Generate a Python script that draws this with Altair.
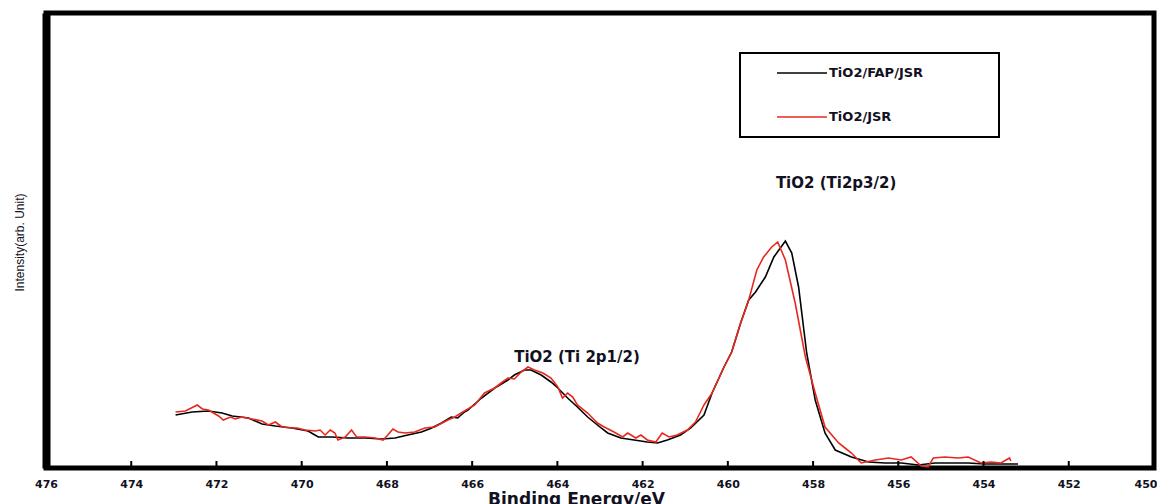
import altair as alt
import pandas as pd

SERIES = ["TiO2/FAP/JSR", "TiO2/JSR"]
COLORS = ["#000000", "#e8281e"]

E_BLACK = [472.96, 472.57, 472.19, 471.87, 471.63, 471.25, 470.93, 470.62, 470.23, 469.85,
           469.61, 469.29, 468.91, 468.51, 468.12, 467.81, 467.51, 467.19, 466.95, 466.72,
           466.49, 466.34, 466.18, 466.10, 465.78, 465.47, 465.16, 465.01, 464.77, 464.62,
           464.38, 464.15, 463.99, 463.76, 463.53, 463.29, 463.06, 462.82, 462.51, 462.20,
           461.89, 461.65, 461.42, 461.11, 460.87, 460.56, 460.37, 460.09, 459.91, 459.70,
           459.51, 459.35, 459.12, 458.92, 458.65, 458.50, 458.34, 458.15, 457.95, 457.72,
           457.48, 457.10, 456.70, 456.31, 455.93, 455.53, 455.14, 454.76, 454.36, 453.97,
           453.59, 453.19]
I_BLACK = [53, 56, 57, 55, 52, 50, 44, 42, 40, 37,
           31, 31, 30, 30, 29, 30, 33, 36, 40, 45,
           51, 50, 56, 58, 70, 80, 88, 93, 98, 98,
           93, 86, 80, 70, 61, 51, 43, 35, 30, 28,
           26, 25, 28, 33, 40, 53, 75, 101, 116, 145,
           168, 176, 191, 211, 227, 215, 181, 115, 68, 35,
           18, 11, 6, 5, 5, 3, 5, 5, 5, 4,
           4, 4]

E_RED = [472.96, 472.73, 472.45, 472.33, 472.19, 471.95, 471.84, 471.67, 471.56, 471.40,
         471.17, 470.93, 470.78, 470.62, 470.46, 470.23, 470.11, 469.92, 469.68, 469.57,
         469.45, 469.33, 469.22, 469.15, 468.98, 468.83, 468.71, 468.51, 468.28, 468.09,
         467.98, 467.86, 467.74, 467.58, 467.35, 467.11, 466.88, 466.57, 466.41, 466.18,
         465.94, 465.71, 465.47, 465.32, 465.16, 465.01, 464.85, 464.69, 464.54, 464.34,
         464.15, 463.99, 463.88, 463.76, 463.64, 463.53, 463.29, 463.06, 462.90, 462.67,
         462.47, 462.35, 462.16, 462.04, 461.89, 461.69, 461.54, 461.38, 461.19, 460.95,
         460.76, 460.56, 460.37, 460.09, 459.91, 459.70, 459.51, 459.32, 459.16, 458.97,
         458.83, 458.65, 458.42, 458.18, 457.95, 457.72, 457.40, 457.25, 457.10, 456.87,
         456.54, 456.23, 455.93, 455.70, 455.46, 455.30, 455.18, 454.91, 454.60, 454.36,
         454.06, 453.82, 453.59, 453.39, 453.36]
I_RED = [56, 57, 63, 59, 58, 52, 48, 51, 49, 51,
         49, 47, 43, 46, 41, 40, 40, 38, 37, 38,
         33, 38, 35, 28, 31, 38, 31, 31, 30, 28,
         33, 39, 36, 35, 36, 40, 41, 48, 51, 57,
         63, 75, 80, 85, 90, 89, 96, 101, 98, 95,
         90, 81, 70, 75, 71, 63, 55, 45, 41, 36,
         31, 35, 30, 33, 28, 26, 35, 31, 33, 38,
         46, 63, 75, 101, 116, 145, 168, 198, 211, 221,
         226, 208, 165, 111, 75, 41, 25, 20, 15, 5,
         8, 10, 8, 11, 2, 1, 10, 11, 10, 11,
         5, 6, 5, 10, 7]

X_LABELS = [476, 474, 472, 470, 468, 466, 464, 462, 460, 458, 456, 454, 452, 450]
X_INNER_TICKS = [474, 472, 470, 468, 466, 464, 462, 460, 458, 456, 454, 452]

ANNOT_TEXT = ["TiO2 (Ti2p3/2)", "TiO2 (Ti 2p1/2)"]
ANNOT_E = [457.46, 463.54]
ANNOT_I = [285, 111]

W, H = 1108, 455
TXT = "#111122"

lines_df = pd.concat([
    pd.DataFrame({"series": SERIES[0], "energy": E_BLACK, "intensity": I_BLACK, "order": 0}),
    pd.DataFrame({"series": SERIES[1], "energy": E_RED, "intensity": I_RED, "order": 1}),
], ignore_index=True)
annot_df = pd.DataFrame({"label": ANNOT_TEXT, "energy": ANNOT_E, "intensity": ANNOT_I})
ticks_df = pd.DataFrame({"energy": X_INNER_TICKS})

x_enc = alt.X(
    "energy:Q",
    scale=alt.Scale(domain=[450, 476], reverse=True, nice=False, zero=False),
    axis=alt.Axis(
        values=X_LABELS, title="Binding Energy/eV", ticks=False, domain=False, grid=False,
        labelFlush=False, labelOverlap=False, labelFont="DejaVu Sans", labelFontWeight="bold",
        labelFontSize=11, labelColor=TXT, labelPadding=10,
        labelAlign={"condition": {"test": "datum.value == 450", "value": "right"}, "value": "center"},
        labelOffset={"condition": {"test": "datum.value == 450", "value": 3}, "value": 0},
        titleFont="DejaVu Sans", titleFontWeight="bold", titleFontSize=17, titleColor=TXT,
        titleX=530, titleY=23, titleAlign="center", titleBaseline="top",
    ),
)
y_enc = alt.Y(
    "intensity:Q",
    scale=alt.Scale(domain=[0, 455], nice=False, zero=False),
    axis=alt.Axis(
        title="Intensity(arb. Unit)", labels=False, ticks=False, grid=False,
        domain=True, domainWidth=8, domainColor="black",
        titleFont="Liberation Sans Narrow, Liberation Sans", titleFontSize=12,
        titleFontWeight="normal", titleColor=TXT, titleAngle=270,
        titleX=-27, titleY=229, titleAlign="center", titleBaseline="middle",
    ),
)

lines = alt.Chart(lines_df).mark_line(strokeWidth=1.6).encode(
    x=x_enc, y=y_enc,
    color=alt.Color("series:N", scale=alt.Scale(domain=SERIES, range=COLORS), legend=None),
    order="order:Q",
)

annots = alt.Chart(annot_df).mark_text(
    font="DejaVu Sans", fontWeight="bold", fontSize=15, color=TXT, baseline="middle", align="center"
).encode(x=x_enc, y=y_enc, text="label:N")

inner_ticks = alt.Chart(ticks_df).mark_rule(color="black", strokeWidth=2).encode(
    x=x_enc, y=alt.value(H), y2=alt.value(H - 7)
)

# legend drawn inside the plot area
legend_box = alt.Chart(pd.DataFrame({"k": [0]})).mark_rect(
    filled=False, stroke="black", strokeWidth=2
).encode(x=alt.value(694), x2=alt.value(953), y=alt.value(40), y2=alt.value(124))

legend_layers = []
for i, (name, col) in enumerate(zip(SERIES, COLORS)):
    ly = 60 + 44 * i
    d = pd.DataFrame({"series": [name]})
    legend_layers.append(
        alt.Chart(d).mark_rule(color=col, strokeWidth=1.6).encode(
            x=alt.value(731), x2=alt.value(781), y=alt.value(ly)
        )
    )
    legend_layers.append(
        alt.Chart(d).mark_text(
            font="DejaVu Sans", fontWeight="bold", fontSize=13, color=TXT,
            align="left", baseline="middle"
        ).encode(x=alt.value(783), y=alt.value(ly), text="series:N")
    )

chart = alt.layer(lines, annots, inner_ticks, legend_box, *legend_layers).properties(
    width=W, height=H,
    padding={"left": 38, "top": 5, "right": 3, "bottom": 36},
    autosize=alt.AutoSizeParams(type="none"),
    background="white",
).configure_view(stroke="black", strokeWidth=5)

chart.save("out.html", embed_options={"renderer": "svg", "actions": False})
